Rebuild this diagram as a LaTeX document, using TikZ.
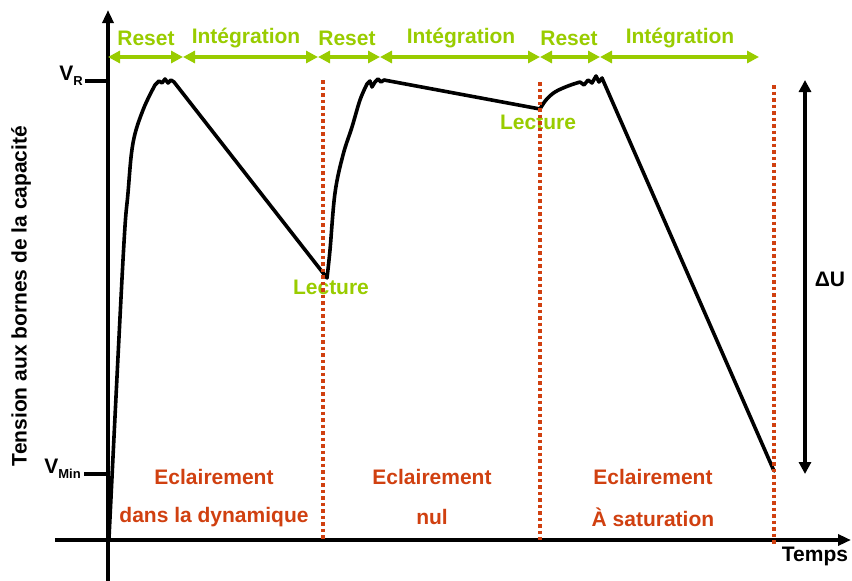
\documentclass[tikz,border=0pt]{standalone}
\usepackage{fontspec}
\setmainfont{Liberation Sans}
\usetikzlibrary{arrows.meta,positioning}

\definecolor{lime}{RGB}{153,204,0}
\definecolor{brick}{RGB}{208,64,16}

\tikzset{
  axis/.style={line width=3.4pt, -{Triangle[length=13pt,width=11pt]}},
  span/.style={lime, line width=3.4pt, {Triangle[length=12pt,width=12pt]}-{Triangle[length=12pt,width=12pt]}},
  cut/.style={brick, line width=3.2pt, dash pattern=on 3.5pt off 3pt},
  phase/.style={lime, inner sep=0pt},
  zone/.style={brick, inner sep=0pt},
  lbl/.style={inner sep=0pt},
  signal/.style={line width=3.6pt, line join=round, line cap=round}
}

\begin{document}
\begin{tikzpicture}[x=1pt, y=-1pt, font=\fontsize{21}{25}\selectfont\bfseries]

  \useasboundingbox (0,0) rectangle (852,581);

  % axes
  \coordinate (o) at (108,540);
  \coordinate (ytop) at (108,10);
  \coordinate (ybot) at (108,581);
  \coordinate (xleft) at (55,540);
  \coordinate (xend) at (851,540);
  \draw[axis] (ybot) -- (ytop);
  \draw[axis] (xleft) -- (xend);

  \node (temps) [lbl] at (815,556) {Temps};
  \node (tension) [lbl, rotate=90] at (21,296) {Tension aux bornes de la capacit\'e};

  % levels
  \coordinate (vrtick) at (85,81);
  \coordinate (vraxis) at (108,81);
  \coordinate (vmtick) at (84,474);
  \coordinate (vmaxis) at (108,474);
  \draw[line width=3.2pt] (vrtick) -- (vraxis);
  \draw[line width=3.2pt] (vmtick) -- (vmaxis);
  \node (vr) [lbl, anchor=east] at (83,76) {V\raisebox{-5pt}{\fontsize{13}{13}\selectfont R}};
  \node (vmin) [lbl, anchor=east] at (81,469) {V\raisebox{-5pt}{\fontsize{13}{13}\selectfont Min}};

  % phases
  \coordinate (p0) at (108,57);
  \coordinate (p1) at (183,57);
  \coordinate (p2) at (318,57);
  \coordinate (p3) at (380,57);
  \coordinate (p4) at (540,57);
  \coordinate (p5) at (600,57);
  \coordinate (p6) at (759,57);
  \draw[span] (p0) -- (p1);
  \draw[span] (p1) -- (p2);
  \draw[span] (p2) -- (p3);
  \draw[span] (p3) -- (p4);
  \draw[span] (p4) -- (p5);
  \draw[span] (p5) -- (p6);
  \node (reset1) [phase] at (146,38) {Reset};
  \node (integ1) [phase] at (246,38) {Int\'egration};
  \node (reset2) [phase] at (347,38) {Reset};
  \node (integ2) [phase] at (461,38) {Int\'egration};
  \node (reset3) [phase] at (569,38) {Reset};
  \node (integ3) [phase] at (680,38) {Int\'egration};

  % voltage
  \draw[signal] (109,538) -- plot[smooth, tension=0.6] coordinates {(109,538) (123,260) (128,193) (133,143) (143,110) (155,85)}
    -- (159,81) -- (162,83) -- (165,79) -- (168,83) -- (171,80) -- (174,82) -- (327,278)
    -- plot[smooth, tension=0.6] coordinates {(327,278) (330,250) (335,193) (343,155) (352,127) (360,100) (367,84)}
    -- (370,81) -- (372,87) -- (375,82) -- (378,79) -- (381,82) -- (384,80) -- (540,109)
    -- plot[smooth, tension=0.6] coordinates {(540,109) (546,100) (555,92) (568,86) (580,82)}
    -- (584,85) -- (588,80) -- (592,83) -- (596,76) -- (599,82) -- (602,78) -- (774,471);

  \node (lect1) [phase] at (331,287) {Lecture};
  \node (lect2) [phase] at (538,122) {Lecture};

  % reading instants
  \coordinate (c1top) at (323,80);
  \coordinate (c1bot) at (323,540);
  \coordinate (c2top) at (540,82);
  \coordinate (c2bot) at (540,540);
  \coordinate (c3top) at (774,85);
  \coordinate (c3bot) at (774,546);
  \draw[cut] (c1top) -- (c1bot);
  \draw[cut] (c2top) -- (c2bot);
  \draw[cut] (c3top) -- (c3bot);

  % dynamic range
  \coordinate (dutop) at (805,80);
  \coordinate (dubot) at (805,474);
  \draw[line width=3.4pt, {Triangle[length=12pt,width=12pt]}-{Triangle[length=12pt,width=12pt]}] (dutop) -- (dubot);
  \node (du) [lbl] at (830,279) {ΔU};

  % lighting cases
  \node (ecl1) [zone] at (214,477) {Eclairement};
  \node (dyn)  [zone] at (214,517) {dans la dynamique};
  \node (ecl2) [zone] at (432,477) {Eclairement};
  \node (nul)  [zone] at (432,517) {nul};
  \node (ecl3) [zone] at (653,477) {Eclairement};
  \node (sat)  [zone] at (653,517) {\`A saturation};

\end{tikzpicture}
\end{document}
